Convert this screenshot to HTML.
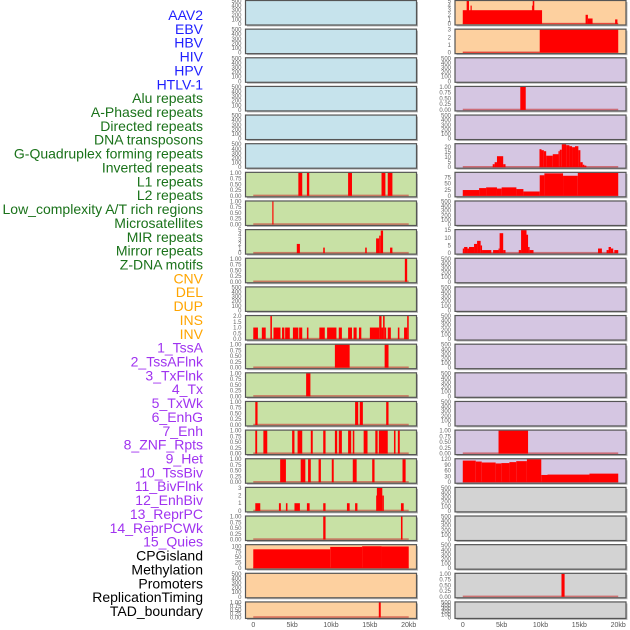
<!DOCTYPE html>
<html><head><meta charset="utf-8"><style>
html,body{margin:0;padding:0;background:#fff;width:630px;height:630px;overflow:hidden}
svg{display:block;font-family:"Liberation Sans",sans-serif}
</style></head><body>
<svg id="chart" width="630" height="630" viewBox="0 0 630 630"></svg>
<script>
// ---- labels ----
const labelNames = ["AAV2","EBV","HBV","HIV","HPV","HTLV-1","Alu repeats","A-Phased repeats","Directed repeats","DNA transposons","G-Quadruplex forming repeats","Inverted repeats","L1 repeats","L2 repeats","Low_complexity A/T rich regions","Microsatellites","MIR repeats","Mirror repeats","Z-DNA motifs","CNV","DEL","DUP","INS","INV","1_TssA","2_TssAFlnk","3_TxFlnk","4_Tx","5_TxWk","6_EnhG","7_Enh","8_ZNF_Rpts","9_Het","10_TssBiv","11_BivFlnk","12_EnhBiv","13_ReprPC","14_ReprPCWk","15_Quies","CPGisland","Methylation","Promoters","ReplicationTiming","TAD_boundary"];
const labelGroups = [0,0,0,0,0,0,1,1,1,1,1,1,1,1,1,1,1,1,1,2,2,2,2,2,3,3,3,3,3,3,3,3,3,3,3,3,3,3,3,4,4,4,4,4];
const groupColors = ["#1f1fff","#1a721a","#ffa500","#a033f0","#000000"];

// ---- x axis ----
const xTicks = [0,5,10,15,20];
const xTickLabels = ["0","5kb","10kb","15kb","20kb"];

// ---- tick sets ----
const ticksEmpty = [0,100,200,300,400,500];
const ticksUnit = [0,0.25,0.5,0.75,1];

// ---- left column bars [startKb, endKb, value] ----
const L7 = [[5.8,6.3,1],[6.9,7.2,1],[12.2,12.7,1],[16.5,17.0,1],[17.3,17.9,1]];
const L8 = [[2.45,2.6,1]];
const L9 = [[5.6,6.0,2],[9.0,9.2,1.2],[14.4,14.6,1.2],[15.8,16.2,3.2],[16.2,16.4,3.8],[16.4,16.7,4.9],[17.6,17.9,1.2]];
const L10 = [[19.5,19.8,1]];
const L12 = [[0,0.6,1],[1.1,1.6,1],[2.2,2.4,2],[2.6,3.5,1],[3.7,4.0,1],[4.1,4.7,1],[5.1,5.8,1],[5.9,6.3,1],[6.9,7.1,1],[8.5,9.2,1],[9.5,10.7,1],[11.0,11.4,1],[12.2,12.7,1],[12.9,13.3,1],[13.6,13.9,1],[15.0,16.2,1],[16.2,16.5,2],[16.5,16.7,1],[16.7,16.9,2],[16.9,17.1,1],[17.3,17.7,1],[18.6,18.8,1],[19.4,19.8,1],[19.8,20.0,2]];
const L13 = [[10.5,12.4,1],[16.9,17.4,1]];
const L14 = [[6.8,7.35,1]];
const L15 = [[0.26,0.55,1],[13.1,13.5,1],[13.7,14.1,1],[17.1,17.4,1]];
const L16 = [[0.26,0.5,1],[1.3,1.8,1],[5.0,5.3,1],[5.7,6.3,1],[7.4,7.65,1],[9.0,9.3,1],[10.5,10.8,1],[11.0,11.4,1],[12.2,12.6,1],[12.8,13.0,1],[14.2,14.7,1],[15.7,16.0,1],[16.15,17.3,1],[18.1,18.3,1],[18.6,18.85,1]];
const L17 = [[3.46,4.2,1],[6.1,6.7,1],[7.05,7.4,1],[8.4,8.7,1],[10.1,10.35,1],[12.8,13.3,1],[15.3,15.6,1],[19.2,19.6,1]];
const L18 = [[0.26,0.9,1],[3.3,3.55,1],[4.2,4.4,1],[5.3,6.0,1],[6.9,7.25,1],[9.0,9.3,1],[12.05,12.4,1],[13.1,13.4,1],[15.8,15.9,2],[15.9,16.6,3],[16.6,16.8,2],[19.0,19.35,1]];
const L19 = [[9.0,9.3,1],[19.0,19.2,1]];
const L20 = [[0,9.9,86],[9.9,14,97],[14,16.5,100],[16.5,20,99]];
const L22 = [[16.15,16.4,1]];

// ---- right column bars ----
const R1 = [[0,10.2,3],[0.5,0.8,5],[1.0,1.15,4],[8.9,9.0,4],[9.0,9.2,5],[10.2,20,0.08],[15.8,16.1,2],[16.1,16.7,1.2],[19.6,19.9,1]];
const R2 = [[0,9.9,0.05],[9.9,20,3]];
const R4 = [[7.4,8.1,1]];
const R6 = [[3.85,4.1,3],[4.1,4.4,5],[4.4,5.2,11],[5.2,5.5,3],[9.87,10.13,18],[10.13,10.43,17],[10.43,10.73,16],[10.73,11.58,11.5],[11.58,12.31,13],[12.31,12.48,16],[12.48,12.74,17.5],[12.74,13.3,23],[13.3,13.72,22],[13.72,14.06,21],[14.06,14.44,20],[14.44,14.87,21],[14.87,15.13,17],[15.13,15.43,5],[15.43,15.64,2.5],[15.64,15.9,1.6]];
const R7 = [[0,2.1,24],[2.1,3.0,32],[3.0,4.4,35],[4.4,5.0,30],[5.0,6.9,35],[6.9,7.8,28],[7.8,9.9,18],[9.9,10.5,85],[10.5,12.9,93],[12.9,14.8,83],[14.8,20,95]];
const R9 = [[0,0.17,3],[0.17,0.6,4],[0.6,0.8,3],[0.8,1.45,4],[1.45,1.84,6],[1.84,2.3,8],[2.3,2.48,5],[2.48,3.67,2],[3.9,4.6,2],[4.6,4.74,3],[4.74,5.2,13],[5.2,5.5,2],[7.2,7.5,2],[7.5,8.2,15],[8.2,8.4,12],[8.4,8.6,4],[8.6,9.1,2],[17.4,17.9,3],[18.5,18.76,2],[18.76,19.06,4],[19.06,19.36,3],[19.5,20,2]];
const R15 = [[4.6,8.4,1]];
const R16 = [[0,1.67,113],[1.67,2.44,108],[2.44,4.23,103],[4.23,4.96,98],[4.96,6.0,100],[6.0,6.88,105],[6.88,8.25,110],[8.25,10.1,120],[10.1,10.9,38],[10.9,16.3,40],[16.3,20,45]];
const R21 = [[12.7,13.1,1]];

const BG = {blue:"#c6e3ec", green:"#c8e1a5", peach:"#fdd09f", purple:"#d5c6e2", gray:"#d3d3d3"};
// panel specs: [column, row, bg, bars, ymax, ticks, decimals]
const panels = [
 [0,0,"blue",null,500,ticksEmpty,0],[0,1,"blue",null,500,ticksEmpty,0],[0,2,"blue",null,500,ticksEmpty,0],
 [0,3,"blue",null,500,ticksEmpty,0],[0,4,"blue",null,500,ticksEmpty,0],[0,5,"blue",null,500,ticksEmpty,0],
 [0,6,"green",L7,1,ticksUnit,2],[0,7,"green",L8,1,ticksUnit,2],[0,8,"green",L9,5,[0,1,2,3,4,5],0],
 [0,9,"green",L10,1,ticksUnit,2],[0,10,"green",null,500,ticksEmpty,0],[0,11,"green",L12,2,[0,0.5,1,1.5,2],1],
 [0,12,"green",L13,1,ticksUnit,2],[0,13,"green",L14,1,ticksUnit,2],[0,14,"green",L15,1,ticksUnit,2],
 [0,15,"green",L16,1,ticksUnit,2],[0,16,"green",L17,1,ticksUnit,2],[0,17,"green",L18,3,[0,1,2,3],0],
 [0,18,"green",L19,1,ticksUnit,2],[0,19,"peach",L20,105,[0,25,50,75,100],0],[0,20,"peach",null,500,ticksEmpty,0],
 [0,21,"peach",L22,1,ticksUnit,2],
 [1,0,"peach",R1,5,[0,1,2,3,4,5],0],[1,1,"peach",R2,3,[0,1,2,3],0],[1,2,"purple",null,500,ticksEmpty,0],
 [1,3,"purple",R4,1,ticksUnit,2],[1,4,"purple",null,500,ticksEmpty,0],[1,5,"purple",R6,23,[0,5,10,15,20],0],
 [1,6,"purple",R7,95,[0,25,50,75],0],[1,7,"purple",null,500,ticksEmpty,0],[1,8,"purple",R9,15,[0,5,10,15],0],
 [1,9,"purple",null,500,ticksEmpty,0],[1,10,"purple",null,500,ticksEmpty,0],[1,11,"purple",null,500,ticksEmpty,0],
 [1,12,"purple",null,500,ticksEmpty,0],[1,13,"purple",null,500,ticksEmpty,0],[1,14,"purple",null,500,ticksEmpty,0],
 [1,15,"purple",R15,1,ticksUnit,2],[1,16,"purple",R16,120,[0,30,60,90,120],0],[1,17,"gray",null,500,ticksEmpty,0],
 [1,18,"gray",null,500,ticksEmpty,0],[1,19,"gray",null,500,ticksEmpty,0],[1,20,"gray",R21,1,ticksUnit,2],
 [1,21,"gray",null,500,ticksEmpty,0]
];

const NS = "http://www.w3.org/2000/svg";
const svg = document.getElementById("chart");
function mk(tag, attrs, parent){
  const e = document.createElementNS(NS, tag);
  for (const k in attrs) e.setAttribute(k, attrs[k]);
  (parent||svg).appendChild(e);
  return e;
}
const colX = [245.5, 455];
const panelW = 171;
function xs(col, kb){ return colX[col] + (kb + 1) / 22 * panelW; }
function rowTop(r){ return 0.5 + r * 28.64; }
function rowH(r){ return r === 21 ? 16.5 : 24.5; }

// labels
labelNames.forEach((name, i) => {
  const t = mk("text", {x:203, y:15 + i*13.86 + 5, "text-anchor":"end", "font-size":"14", fill:groupColors[labelGroups[i]]});
  
  
  t.textContent = name;
});

// panels
panels.forEach(p => {
  const [col, row, bg, bars, ymax, ticks, dec] = p;
  const x0 = colX[col], y0 = rowTop(row), h = rowH(row);
  const g = mk("g", {});
  
  
  mk("rect", {x:x0+1.5, y:y0+1.5, width:panelW, height:h, fill:"#b8b8b8"}, g);
  mk("rect", {x:x0, y:y0, width:panelW, height:h, fill:BG[bg]}, g);
  const ys = v => y0 + h - 1 - (v / ymax) * (h - 1.5);
  if (bars) {
    const base = mk("rect", {x:xs(col,0), y:y0+h-2.2, width:xs(col,20)-xs(col,0), height:1.6, fill:"#c83232", opacity:"0.6"}, g);
    
    
    bars.forEach(b => {
      const bx = xs(col, b[0]), bw = Math.max(0.8, xs(col, b[1]) - bx);
      const r = mk("rect", {x:bx, y:ys(b[2]), width:bw, height:(y0+h-1) - ys(b[2]), fill:"#ff0000"}, g);
      
      
    });
  }
  mk("rect", {x:x0, y:y0, width:panelW, height:h, fill:"none", stroke:"#555", "stroke-width":"1.2"}, g);
  ticks.forEach(tv => {
    const t = mk("text", {x:x0-4, y:ys(tv)+2, "text-anchor":"end", "font-size":"6", fill:"#666"}, g);
    
    
    t.textContent = tv.toFixed(dec);
  });
});

// x axes
[0,1].forEach(col => {
  xTicks.forEach((v, i) => {
    const t = mk("text", {x:xs(col, v), y:627, "text-anchor":"middle", "font-size":"7", fill:"#555"});
    
    
    t.textContent = xTickLabels[i];
  });
});
</script>
</body></html>
